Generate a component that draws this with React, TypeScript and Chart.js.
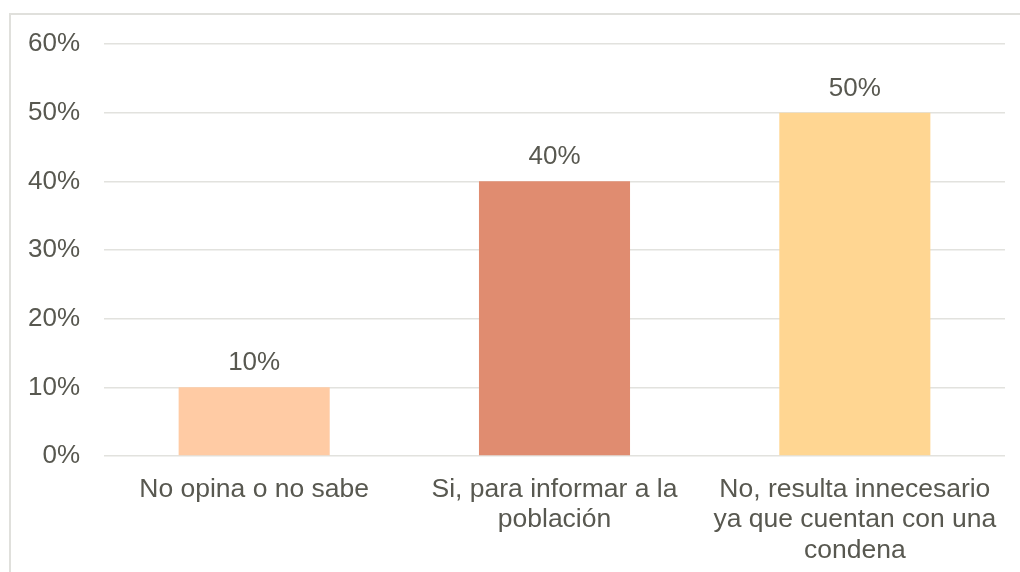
import React, { useEffect, useRef } from "react";
import { Chart, registerables } from "chart.js";

Chart.register(...registerables);

const categories: string[][] = [
  ["No opina o no sabe"],
  ["Si, para informar a la", "población"],
  ["No, resulta innecesario", "ya que cuentan con una", "condena"],
];
const values: number[] = [10, 40, 50];
const barColors: string[] = ["#FFCBA4", "#E08C70", "#FFD692"];
const yTicks: number[] = [0, 10, 20, 30, 40, 50, 60];

const TEXT = "#585850";
const GRID = "#e2e2de";
const FONT = "'Liberation Sans', Arial, sans-serif";

const framePlugin = {
  id: "frame",
  beforeDraw(chart: any) {
    const ctx = chart.ctx;
    ctx.save();
    ctx.strokeStyle = "#e0e0dc";
    ctx.lineWidth = 2;
    ctx.beginPath();
    ctx.moveTo(10, chart.height + 5);
    ctx.lineTo(10, 14);
    ctx.lineTo(chart.width + 5, 14);
    ctx.stroke();
    ctx.restore();
  },
};

const labelPlugin = {
  id: "barLabels",
  afterDatasetsDraw(chart: any) {
    const ctx = chart.ctx;
    const meta = chart.getDatasetMeta(0);
    ctx.save();
    ctx.fillStyle = TEXT;
    ctx.font = `26px ${FONT}`;
    ctx.textAlign = "center";
    ctx.textBaseline = "alphabetic";
    meta.data.forEach((bar: any, i: number) => {
      ctx.fillText(`${values[i]}%`, bar.x, bar.y - 17);
    });
    ctx.restore();
  },
};

export default function App() {
  const ref = useRef<HTMLCanvasElement>(null);
  useEffect(() => {
    document.body.style.margin = "0";
    const chart = new Chart(ref.current!, {
      type: "bar",
      data: {
        labels: categories as any,
        datasets: [
          {
            data: values,
            backgroundColor: barColors,
            borderWidth: 0,
            barPercentage: 0.503,
            categoryPercentage: 1,
          },
        ],
      },
      options: {
        animation: false,
        responsive: false,
        maintainAspectRatio: false,
        layout: { padding: { left: 0, right: 15, top: 44, bottom: 0 } },
        plugins: { legend: { display: false }, tooltip: { enabled: false } },
        scales: {
          x: {
            grid: { display: false, drawTicks: false },
            border: { display: false },
            ticks: {
              color: TEXT,
              font: { family: FONT, size: 26.5, lineHeight: 1.16 },
              maxRotation: 0,
              minRotation: 0,
              autoSkip: false,
              padding: 18,
            },
            afterFit: (axis: any) => {
              axis.height = 116;
            },
          },
          y: {
            min: 0,
            max: 60,
            afterBuildTicks: (axis: any) => {
              axis.ticks = yTicks.map((v) => ({ value: v }));
            },
            grid: { color: GRID, lineWidth: 1.5, drawTicks: false },
            border: { display: false },
            ticks: {
              color: TEXT,
              font: { family: FONT, size: 26 },
              padding: 24,
              callback: (v: any) => `${v}%`,
            },
            afterFit: (axis: any) => {
              axis.width = 104;
            },
          },
        },
      },
      plugins: [framePlugin, labelPlugin],
    });
    return () => chart.destroy();
  }, []);
  return (
    <div style={{ width: 1020, height: 572 }}>
      <canvas ref={ref} width={1020} height={572} style={{ display: "block" }} />
    </div>
  );
}
